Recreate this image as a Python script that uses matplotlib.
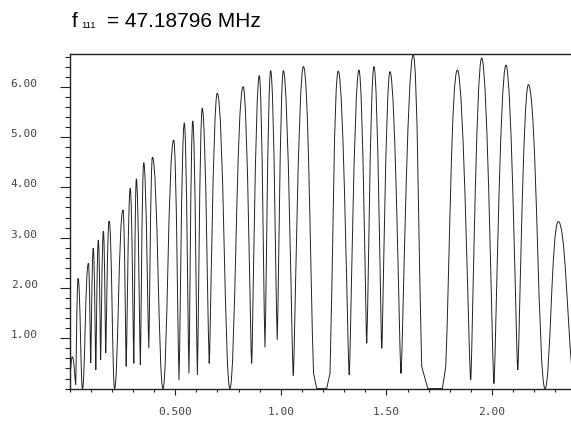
import matplotlib.pyplot as plt
from matplotlib.path import Path
from matplotlib.patches import PathPatch
from matplotlib.ticker import MultipleLocator

# turning points of the trace
freq = [0.002, 0.013, 0.029, 0.040, 0.061, 0.089, 0.100, 0.112, 0.124, 0.136,
        0.147, 0.160, 0.171, 0.187, 0.213, 0.253, 0.268, 0.287, 0.304, 0.316,
        0.335, 0.351, 0.375, 0.392, 0.442, 0.493, 0.518, 0.543, 0.565, 0.583,
        0.605, 0.628, 0.661, 0.699, 0.759, 0.822, 0.862, 0.898, 0.925, 0.952,
        0.983, 1.012, 1.059, 1.107, 1.155, 1.170, 1.217, 1.233, 1.272, 1.324,
        1.370, 1.407, 1.441, 1.478, 1.517, 1.569, 1.627, 1.667, 1.696, 1.765,
        1.781, 1.836, 1.899, 1.951, 2.009, 2.066, 2.122, 2.172, 2.251, 2.314,
        2.377]
amp = [0.25, 0.63, 0.08, 2.19, 0.00, 2.49, 0.51, 2.79, 0.37, 2.95,
       0.57, 3.13, 0.71, 3.33, 0.00, 3.55, 0.44, 3.98, 0.50, 4.17,
       0.47, 4.49, 0.80, 4.60, 0.00, 4.94, 0.17, 5.28, 0.30, 5.32,
       0.27, 5.57, 0.50, 5.87, 0.00, 6.00, 0.50, 6.22, 0.82, 6.32,
       0.97, 6.32, 0.26, 6.40, 0.30, 0.00, 0.00, 0.30, 6.31, 0.27,
       6.33, 0.90, 6.40, 0.80, 6.30, 0.30, 6.63, 0.44, 0.00, 0.00,
       0.44, 6.33, 0.17, 6.57, 0.10, 6.43, 0.37, 6.04, 0.00, 3.32,
       0.45]

title_sub = "111"
title_value = "= 47.18796 MHz"
xticks = [0.5, 1.0, 1.5, 2.0]
xtick_labels = ["0.500", "1.00", "1.50", "2.00"]
yticks = [1, 2, 3, 4, 5, 6]
ytick_labels = ["1.00", "2.00", "3.00", "4.00", "5.00", "6.00"]


def trace_path(x, y):
    # smooth bezier pieces between turning points, flat tangent at each extremum
    n = len(x)

    def ctrl(i, j):
        dx = x[j] - x[i]
        if 0 < i < n - 1:
            if y[i] > y[i - 1] and y[i] > y[i + 1]:
                return (x[i] + 0.5 * dx, y[i])
            if y[i] < y[i - 1] and y[i] < y[i + 1]:
                k = 0.4 if y[i] < 0.05 else 0.12
                return (x[i] + k * dx, y[i])
        return (x[i] + dx / 3, y[i] + (y[j] - y[i]) / 3)

    verts = [(x[0], y[0])]
    codes = [Path.MOVETO]
    for i in range(n - 1):
        verts += [ctrl(i, i + 1), ctrl(i + 1, i), (x[i + 1], y[i + 1])]
        codes += [Path.CURVE4] * 3
    return Path(verts, codes)


fig = plt.figure(figsize=(5.71, 4.21), dpi=100)
ax = fig.add_axes([0.1219, 0.077, 0.8781, 0.7947])

ax.add_patch(PathPatch(trace_path(freq, amp), fill=False, lw=0.7, ec="#222222"))
ax.set_xlim(0, 2.374)
ax.set_ylim(0, 6.65)

ax.set_xticks(xticks, xtick_labels)
ax.set_yticks(yticks, ytick_labels)
ax.xaxis.set_minor_locator(MultipleLocator(0.1))
ax.yaxis.set_minor_locator(MultipleLocator(0.2))

ax.tick_params(axis="both", which="both", direction="out", color="#222222", width=0.8,
               labelcolor="#444444", labelsize=8)
ax.tick_params(axis="y", which="major", length=7, pad=16)
ax.tick_params(axis="y", which="minor", length=3.5)
ax.tick_params(axis="x", which="major", length=4.5, pad=9)
ax.tick_params(axis="x", which="minor", length=2)
for lab in ax.get_xticklabels() + ax.get_yticklabels():
    lab.set_fontfamily("DejaVu Sans Mono")
for lab in ax.get_yticklabels():
    lab.set_verticalalignment("baseline")

for side in ["left", "top", "bottom"]:
    ax.spines[side].set_color("#222222")
    ax.spines[side].set_linewidth(1.0)
ax.spines["right"].set_visible(False)

fig.text(72 / 571, 1 - 27.3 / 421, "f", fontsize=15, family="Liberation Sans", va="baseline")
fig.text(81.5 / 571, 1 - 28 / 421, title_sub, fontsize=6.7, family="Liberation Sans", va="baseline")
fig.text(106.7 / 571, 1 - 27.3 / 421, title_value, fontsize=15, family="Liberation Sans", va="baseline")

fig.savefig("out.png", dpi=100)
